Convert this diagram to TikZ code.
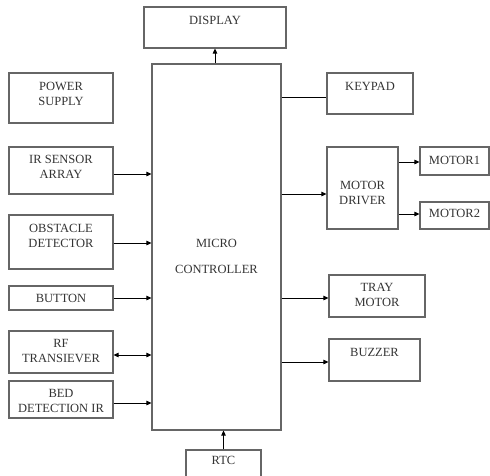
\documentclass[tikz,border=0pt]{standalone}
\usepackage{fontspec}
\setmainfont{Liberation Serif}
\usetikzlibrary{arrows.meta}
\begin{document}
\begin{tikzpicture}[x=1pt,y=-1pt,
  box/.style={draw=black!60, line width=1.1pt, rectangle, inner sep=0pt},
  txt/.style={font=\fontsize{12.5}{15}\selectfont, text=black!80, align=center, inner sep=0pt, anchor=center},
  arr/.style={line width=0.8pt, -{Triangle[length=5pt,width=4.5pt]}},
  darr/.style={line width=0.8pt, {Triangle[length=5pt,width=4.5pt]}-{Triangle[length=5pt,width=4.5pt]}},
  ln/.style={line width=0.8pt}]
\useasboundingbox (0,0) rectangle (490,475);
\clip (0,0) rectangle (490,475);
% boxes
\node[box, minimum width=142pt, minimum height=41pt, label={[txt,yshift=7.5pt]center:DISPLAY}] (display) at (215,27.5) {};
\node[box, minimum width=129pt, minimum height=366pt, label={[txt,yshift=-9pt]center:MICRO\\[11pt]CONTROLLER}] (mc) at (216.5,247) {};
\node[box, minimum width=104pt, minimum height=50pt, label={[txt,yshift=4.5pt]center:POWER\\SUPPLY}] (power) at (61,98) {};
\node[box, minimum width=104pt, minimum height=47pt, label={[txt,yshift=4pt]center:IR SENSOR\\ARRAY}] (ir) at (61,170.5) {};
\node[box, minimum width=104pt, minimum height=54pt, label={[txt,yshift=6.5pt]center:OBSTACLE\\DETECTOR}] (obst) at (61,242) {};
\node[box, minimum width=104pt, minimum height=24pt, label={[txt]center:BUTTON}] (button) at (61,298) {};
\node[box, minimum width=104pt, minimum height=42pt, label={[txt,yshift=1.5pt]center:RF\\TRANSIEVER}] (rf) at (61,352) {};
\node[box, minimum width=104pt, minimum height=37pt, label={[txt,yshift=-1pt]center:BED\\DETECTION IR}] (bed) at (61,399.5) {};
\node[box, minimum width=75pt, minimum height=40pt, label={[txt,yshift=10pt]center:RTC}] (rtc) at (223.5,470) {};
\node[box, minimum width=86pt, minimum height=41pt, label={[txt,yshift=7.5pt]center:KEYPAD}] (keypad) at (370,93.5) {};
\node[box, minimum width=71pt, minimum height=82pt, label={[txt,yshift=-5pt]center:MOTOR\\DRIVER}] (driver) at (362.5,188) {};
\node[box, minimum width=69pt, minimum height=28pt, label={[txt,yshift=1pt]center:MOTOR1}] (m1) at (454.5,161) {};
\node[box, minimum width=69pt, minimum height=27pt, label={[txt,yshift=2.5pt]center:MOTOR2}] (m2) at (454.5,215.5) {};
\node[box, minimum width=96pt, minimum height=42pt, label={[txt,yshift=1pt]center:TRAY\\MOTOR}] (tray) at (377,296) {};
\node[box, minimum width=91pt, minimum height=42pt, label={[txt,yshift=8pt]center:BUZZER}] (buzzer) at (374.5,360) {};
% connectors
\draw[arr] (display.south |- mc.north) -- (display.south);
\coordinate (irA) at ([yshift=-3.5pt]ir.east);
\draw[arr] (irA) -- (irA -| mc.west);
\coordinate (obA) at ([yshift=-1pt]obst.east);
\draw[arr] (obA) -- (obA -| mc.west);
\draw[arr] (button.east) -- (button.east -| mc.west);
\coordinate (rfA) at ([yshift=-3pt]rf.east);
\draw[darr] (rfA) -- (rfA -| mc.west);
\coordinate (bdA) at ([yshift=-3.5pt]bed.east);
\draw[arr] (bdA) -- (bdA -| mc.west);
\draw[arr] (rtc.north) -- (rtc.north |- mc.south);
\coordinate (kA) at ([yshift=-3.5pt]keypad.west);
\draw[ln] (kA -| mc.east) -- (kA);
\coordinate (drA) at ([yshift=-6pt]driver.west);
\draw[arr] (drA -| mc.east) -- (drA);
\coordinate (m1A) at ([yshift=-1pt]m1.west);
\draw[arr] (m1A -| driver.east) -- (m1A);
\coordinate (m2A) at ([yshift=1.5pt]m2.west);
\draw[arr] (m2A -| driver.east) -- (m2A);
\coordinate (trA) at ([yshift=-2pt]tray.west);
\draw[arr] (trA -| mc.east) -- (trA);
\coordinate (bzA) at ([yshift=-2pt]buzzer.west);
\draw[arr] (bzA -| mc.east) -- (bzA);
\end{tikzpicture}
\end{document}
